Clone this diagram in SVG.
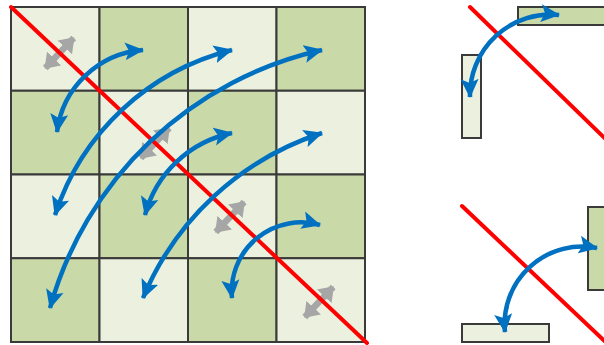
<svg xmlns="http://www.w3.org/2000/svg" width="604" height="345" viewBox="0 0 604 345">
<style>
.lt{fill:#EBF1DE;stroke:#3a3a3a;stroke-width:2}
.dk{fill:#C9D9A8;stroke:#3a3a3a;stroke-width:2}
.red{stroke:#FF0000;stroke-width:4;fill:none;stroke-linecap:round}
.blue{stroke:#0070C0;stroke-width:4.5;fill:none;marker-start:url(#bh);marker-end:url(#bh)}
.gray{stroke:#A6A6A6;stroke-width:6.5;fill:none;marker-start:url(#gh);marker-end:url(#gh)}
</style>
<defs>
<marker id="bh" markerUnits="userSpaceOnUse" viewBox="0 0 19 19" markerWidth="19" markerHeight="19" refX="18" refY="9.5" orient="auto-start-reverse">
<path d="M0,0.5 L19,9.5 L0,18.5 L4,9.5 z" fill="#0070C0"/>
</marker>
<marker id="gh" markerUnits="userSpaceOnUse" viewBox="0 0 14 20" markerWidth="14" markerHeight="20" refX="13" refY="10" orient="auto-start-reverse">
<path d="M0,0 L14,10 L0,20 z" fill="#A6A6A6"/>
</marker>
</defs>
<g id="grid">
<rect class="lt" x="11" y="7" width="88.5" height="83.75"/>
<rect class="dk" x="99.5" y="7" width="88.5" height="83.75"/>
<rect class="lt" x="188" y="7" width="88.5" height="83.75"/>
<rect class="dk" x="276.5" y="7" width="88.5" height="83.75"/>
<rect class="dk" x="11" y="90.75" width="88.5" height="83.75"/>
<rect class="lt" x="99.5" y="90.75" width="88.5" height="83.75"/>
<rect class="dk" x="188" y="90.75" width="88.5" height="83.75"/>
<rect class="lt" x="276.5" y="90.75" width="88.5" height="83.75"/>
<rect class="lt" x="11" y="174.5" width="88.5" height="83.75"/>
<rect class="dk" x="99.5" y="174.5" width="88.5" height="83.75"/>
<rect class="lt" x="188" y="174.5" width="88.5" height="83.75"/>
<rect class="dk" x="276.5" y="174.5" width="88.5" height="83.75"/>
<rect class="dk" x="11" y="258.25" width="88.5" height="83.75"/>
<rect class="lt" x="99.5" y="258.25" width="88.5" height="83.75"/>
<rect class="dk" x="188" y="258.25" width="88.5" height="83.75"/>
<rect class="lt" x="276.5" y="258.25" width="88.5" height="83.75"/>
</g>
<g id="bars">
<rect id="bar-top-h" class="dk" x="518" y="7" width="100" height="18"/>
<rect id="bar-top-v" class="lt" x="462" y="55" width="19" height="83"/>
<rect id="bar-bot-v" class="dk" x="588" y="207" width="30" height="83"/>
<rect id="bar-bot-h" class="lt" x="462" y="324" width="87" height="18"/>
</g>
<g id="connectors">
<line class="gray" x1="45.3" y1="68" x2="73.7" y2="38"/>
<line class="gray" x1="140.8" y1="158" x2="169.2" y2="128"/>
<line class="gray" x1="215.8" y1="232" x2="244.2" y2="202"/>
<line class="gray" x1="304.8" y1="317" x2="333.2" y2="287"/>
<line class="red" x1="11" y1="7" x2="367" y2="343"/>
<line class="red" x1="470" y1="7" x2="620" y2="153"/>
<line class="red" x1="462" y1="206" x2="615" y2="351"/>
<path class="blue" d="M57,132 A93.8,93.8 0 0 1 143,50"/>
<path class="blue" d="M55,215 A249.3,249.3 0 0 1 232,50"/>
<path class="blue" d="M50,308 A364.4,364.4 0 0 1 322,50"/>
<path class="blue" d="M145,215 A113.3,113.3 0 0 1 232,133"/>
<path class="blue" d="M143,298 A290.2,290.2 0 0 1 322,133"/>
<path class="blue" d="M232,298 A69.3,69.3 0 0 1 320,225"/>
<path class="blue" d="M470,97 A80.6,80.6 0 0 1 559,15"/>
<path class="blue" d="M505,332 A77.5,77.5 0 0 1 597,248"/>
</g>
</svg>
